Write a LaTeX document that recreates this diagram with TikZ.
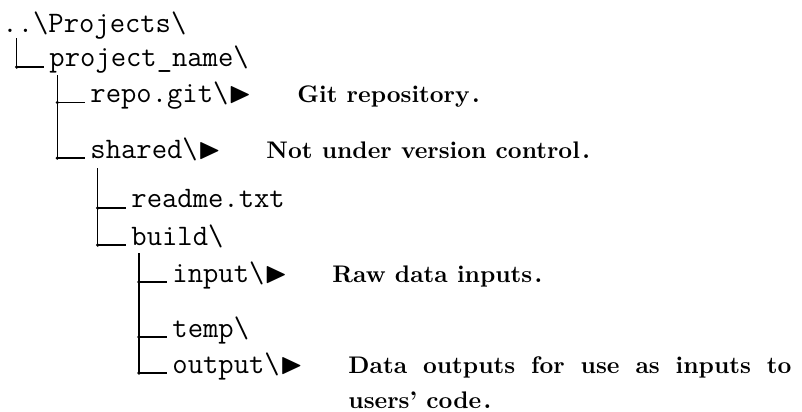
\documentclass[tikz,border=0pt]{standalone}
\usepackage{fontspec}
\usepackage{amssymb}
\begin{document}
\begin{tikzpicture}[x=0.4167pt,y=-0.4167pt,
  dirlabel/.style={inner sep=0pt, anchor=base west, font=\fontsize{12.4}{15}\selectfont\ttfamily},
  cmt/.style={inner sep=0pt, anchor=base west, font=\normalsize\bfseries},
  branch/.style={line width=0.45pt},
  jdot/.style={fill=black}]
\useasboundingbox (0,0) rectangle (802,412);
% labels
\node[dirlabel] (root) at (2,32) {..\textbackslash Projects\textbackslash};
\node[dirlabel] (proj) at (49,67) {project\_name\textbackslash};
\node[dirlabel] (repo) at (90,102.5) {repo.git\textbackslash$\blacktriangleright$};
\node[dirlabel] (shared) at (90,158) {shared\textbackslash$\blacktriangleright$};
\node[dirlabel] (readme) at (131,208) {readme.txt};
\node[dirlabel] (build) at (131,245) {build\textbackslash};
\node[dirlabel] (input) at (172,282) {input\textbackslash$\blacktriangleright$};
\node[dirlabel] (temp) at (172,337) {temp\textbackslash};
\node[dirlabel] (output) at (172,373) {output\textbackslash$\blacktriangleright$};
% comments
\node[cmt] (c1) at (297,102.5) {Git repository\kern1pt.};
\node[cmt] (c2) at (266,158) {Not under version control\kern1pt.};
\node[cmt] (c3) at (332,282) {Raw data inputs\kern1pt.};
\node[cmt, text width=184.6pt, align=justify, font=\fontsize{10}{14.6}\selectfont\bfseries] (c4) at (348,373) {Data outputs for use as inputs to users' code\kern1pt.};
% vertical tops
\coordinate (t1) at (16.7,38);
\coordinate (t2) at (57.3,75);
\coordinate (t3) at (97.7,168);
\coordinate (t4) at (139,253);
% branches
\foreach \top/\child in {t1/proj, t2/repo, t2/shared, t3/readme, t3/build, t4/input, t4/temp, t4/output}{
  \draw[branch] (\top) |- ([xshift=-2.1pt]\child.base west);
  \fill[jdot] (\top |- \child.base) circle (0.75pt);
}
\end{tikzpicture}
\end{document}
